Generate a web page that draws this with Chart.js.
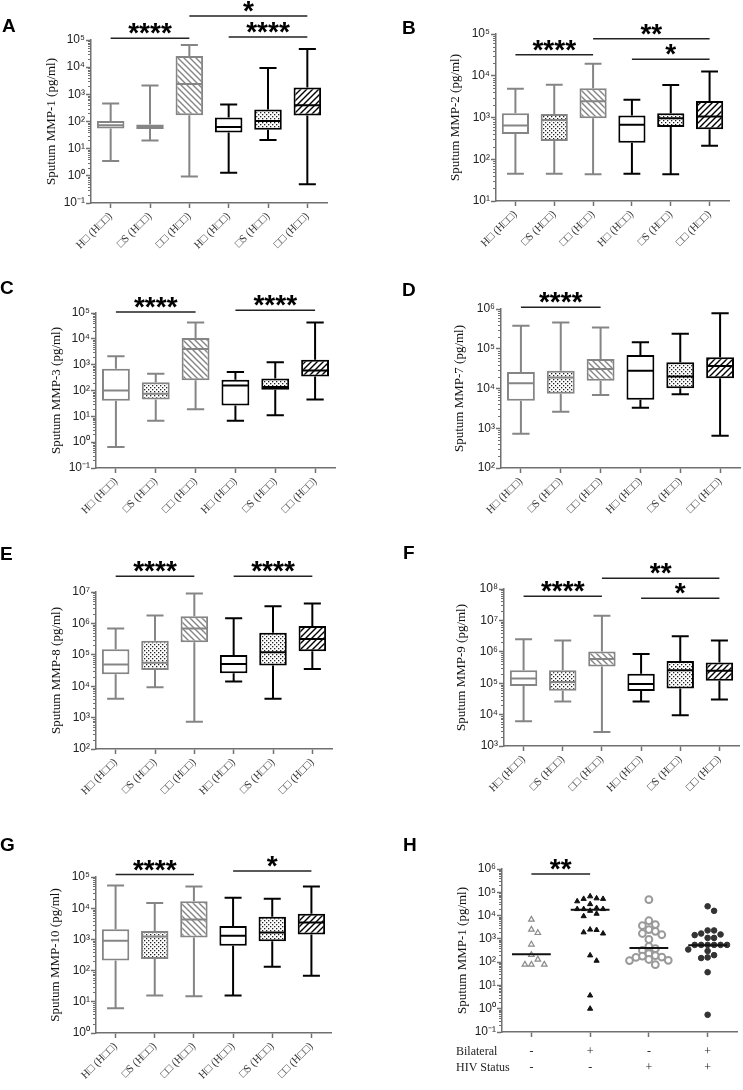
<!DOCTYPE html>
<html>
<head>
<meta charset="utf-8">
<script src="https://cdn.jsdelivr.net/npm/chart.js@4.4.1/dist/chart.umd.min.js"></script>
<style>
  body { margin: 0; background: #fff; }
  #fig { position: relative; width: 743px; height: 1090px; background: #fff; overflow: hidden; }
  #fig canvas { position: absolute; }
  .letter { position: absolute; font: bold 19px "Liberation Sans", Arial, sans-serif; line-height: 19px; color: #000; }
</style>
</head>
<body>
<div id="fig"></div>
<script>
// group labels (the source figure's labels render as missing glyphs)
const groupLabels = ['H□ (H□□)', '□S (H□□)', '□□ (H□□)', 'H□ (H□□)', '□S (H□□)', '□□ (H□□)'];

// A - Sputum MMP-1
const aMin = [3.5, 20, 0.95, 1.3, 21, 0.49];
const aQ1  = [55, 53, 170, 39, 50, 165];
const aMed = [73, 65, 2400, 63, 105, 400];
const aQ3  = [105, 77, 26000, 140, 275, 1800];
const aMax = [460, 2100, 66000, 425, 9300, 47000];
const aSig = [[0, 2, '****', 1.15e5], [2, 5, '*', 7.7e5], [3, 5, '****', 1.3e5]];

// B - Sputum MMP-2
const bMin = [45, 45, 44, 45, 44, 210];
const bQ1  = [400, 275, 960, 250, 590, 525];
const bMed = [640, 870, 2450, 670, 960, 1050];
const bQ3  = [1270, 1220, 5000, 1120, 1270, 2500];
const bMax = [4900, 6100, 19500, 2650, 6000, 12700];
const bSig = [[0, 2, '****', 3.2e4], [2, 5, '**', 7.7e4], [3, 5, '*', 2.5e4]];

// C - Sputum MMP-3
const cMin = [0.65, 6.8, 19, 6.8, 11, 45];
const cQ1  = [40, 45, 250, 26, 108, 350];
const cMed = [100, 75, 4000, 155, 137, 600];
const cQ3  = [700, 210, 10700, 260, 290, 1550];
const cMax = [2100, 450, 43000, 520, 1230, 43000];
const cSig = [[0, 2, '****', 1.1e5], [3, 5, '****', 1.27e5]];

// D - Sputum MMP-7
const dMin = [730, 2600, 6900, 3300, 7200, 650];
const dQ1  = [4900, 7400, 15600, 5200, 10200, 18000];
const dMed = [13600, 19000, 31000, 28000, 20000, 37000];
const dQ3  = [26000, 28000, 55000, 70000, 46000, 61000];
const dMax = [380000, 460000, 340000, 145000, 240000, 780000];
const dSig = [[0, 2, '****', 1.1e6]];

// E - Sputum MMP-8
const eMin = [4000, 9300, 740, 14000, 4000, 35000];
const eQ1  = [24000, 33000, 250000, 26000, 46000, 130000];
const eMed = [49000, 56000, 690000, 51000, 120000, 320000];
const eQ3  = [150000, 280000, 1700000, 98000, 500000, 830000];
const eMax = [690000, 1800000, 9000000, 1450000, 3500000, 4300000];
const eSig = [[0, 2, '****', 3.2e7], [3, 5, '****', 3.2e7]];

// F - Sputum MMP-9
const fMin = [6100, 26000, 2800, 26000, 9600, 30000];
const fQ1  = [81000, 58000, 340000, 56000, 68000, 120000];
const fMed = [140000, 110000, 590000, 94000, 260000, 250000];
const fQ3  = [260000, 260000, 1020000, 200000, 510000, 460000];
const fMax = [2500000, 2300000, 14000000, 850000, 3100000, 2300000];
const fSig = [[0, 2, '****', 5.9e7], [2, 5, '**', 2.2e8], [3, 5, '*', 5.1e7]];

// G - Sputum MMP-10
const gMin = [6.2, 16, 15, 16, 134, 69];
const gQ1  = [210, 235, 1150, 630, 870, 1440];
const gMed = [910, 1230, 4360, 1320, 1660, 3500];
const gQ3  = [2100, 1850, 16600, 2700, 5300, 6700];
const gMax = [53000, 14800, 50000, 21500, 20000, 50000];
const gSig = [[0, 2, '****', 1.2e5], [3, 5, '*', 1.55e5]];

// H - Sputum MMP-1 by bilateral disease / HIV status
const hBilateral = ['-', '+', '-', '+'];
const hHiv = ['-', '-', '+', '+'];
const hNoBilatHivNeg = [6700, 2500, 1800, 575, 205, 79, 79, 79, 130];
const hBilatHivNeg = [67000, 52000, 41000, 55000, 52000, 31000, 19000, 19000, 19000, 21000, 16000,
  9400, 12000, 2500, 1900, 1700, 2400, 195, 115, 3.7, 1.0];
const hNoBilatHivPos = [48000, 6000, 3700, 4100, 2100, 2500, 1500, 1700, 940, 380, 320, 480,
  165, 190, 230, 180, 160, 117, 130, 120, 78];
const hBilatHivPos = [25000, 16000, 2300, 1700, 1450, 1100, 1100, 1550, 2300, 550, 550, 550, 550,
  550, 550, 350, 300, 200, 150, 160, 37, 0.55];
const hMedians = [220, 18000, 400, 530];
const hSig = [[0, 1, '**', 6.1e5]];

const GRAY = '#858585';
const BLACK = '#000000';
const AXIS = '#707070';
const SERIF = '"Liberation Serif", "Times New Roman", serif';
const SANS = '"Liberation Sans", Arial, sans-serif';

const SUP = { '-': '⁻', '0': '⁰', '1': '¹', '2': '²', '3': '³', '4': '⁴', '5': '⁵', '6': '⁶', '7': '⁷', '8': '⁸', '9': '⁹' };

function isDecade(v) {
  const e = Math.log10(v);
  return Math.abs(e - Math.round(e)) < 1e-6;
}
function pow10Label(v) {
  const e = Math.round(Math.log10(v));
  return '10' + String(e).split('').map(c => SUP[c]).join('');
}
function logTicks(min, max) {
  const out = [];
  for (let e = Math.round(Math.log10(min)); e < Math.round(Math.log10(max)); e++) {
    for (let m = 1; m < 10; m++) out.push({ value: m * Math.pow(10, e) });
  }
  out.push({ value: max });
  return out;
}

// fill patterns
function hatch(color, dir) {
  const c = document.createElement('canvas');
  c.width = c.height = 6;
  const g = c.getContext('2d');
  g.fillStyle = '#fff';
  g.fillRect(0, 0, 6, 6);
  g.strokeStyle = color;
  g.lineWidth = 1.4;
  g.beginPath();
  if (dir === 'down') {
    g.moveTo(-1, -1); g.lineTo(7, 7);
    g.moveTo(-1, 5); g.lineTo(1, 7);
    g.moveTo(5, -1); g.lineTo(7, 1);
  } else {
    g.moveTo(-1, 7); g.lineTo(7, -1);
    g.moveTo(-1, 1); g.lineTo(1, -1);
    g.moveTo(5, 7); g.lineTo(7, 5);
  }
  g.stroke();
  return g.createPattern(c, 'repeat');
}
function dots() {
  const c = document.createElement('canvas');
  c.width = c.height = 4;
  const g = c.getContext('2d');
  g.fillStyle = '#fff';
  g.fillRect(0, 0, 4, 4);
  g.fillStyle = '#222';
  g.fillRect(0, 0, 1.3, 1.3);
  g.fillRect(2, 2, 1.3, 1.3);
  return g.createPattern(c, 'repeat');
}
const boxFills = ['#ffffff', dots(), hatch(GRAY, 'down'), '#ffffff', dots(), hatch(BLACK, 'up')];
const boxLines = [GRAY, GRAY, GRAY, BLACK, BLACK, BLACK];

// panel placement: cell = canvas box, plot = chart area, titleX = centre of the y title
const layout = {
  A: { cell: [0, 0, 371, 265], plot: [91, 40, 327, 203], titleX: 52, letter: [2, 18] },
  B: { cell: [371, 0, 372, 265], plot: [496, 34, 729, 201], titleX: 456, letter: [402, 20] },
  C: { cell: [0, 265, 371, 265], plot: [96, 313, 335, 468], titleX: 57, letter: [0, 280] },
  D: { cell: [371, 265, 372, 265], plot: [501, 309, 740, 468], titleX: 460, letter: [402, 282] },
  E: { cell: [0, 530, 371, 270], plot: [96, 592, 332, 749], titleX: 57, letter: [0, 546] },
  F: { cell: [371, 530, 372, 270], plot: [504, 589, 739, 746], titleX: 462, letter: [403, 545] },
  G: { cell: [0, 800, 371, 290], plot: [96, 877, 331, 1033], titleX: 56, letter: [0, 837] },
  H: { cell: [371, 800, 372, 290], plot: [502, 869, 742, 1032], titleX: 463, letter: [403, 837] }
};

const boxPanels = [
  { id: 'A', title: 'Sputum MMP-1 (pg/ml)', yMin: 0.1, yMax: 1e5, min: aMin, q1: aQ1, med: aMed, q3: aQ3, max: aMax, sig: aSig },
  { id: 'B', title: 'Sputum MMP-2 (pg/ml)', yMin: 10, yMax: 1e5, min: bMin, q1: bQ1, med: bMed, q3: bQ3, max: bMax, sig: bSig },
  { id: 'C', title: 'Sputum MMP-3 (pg/ml)', yMin: 0.1, yMax: 1e5, min: cMin, q1: cQ1, med: cMed, q3: cQ3, max: cMax, sig: cSig },
  { id: 'D', title: 'Sputum MMP-7 (pg/ml)', yMin: 100, yMax: 1e6, min: dMin, q1: dQ1, med: dMed, q3: dQ3, max: dMax, sig: dSig },
  { id: 'E', title: 'Sputum MMP-8 (pg/ml)', yMin: 100, yMax: 1e7, min: eMin, q1: eQ1, med: eMed, q3: eQ3, max: eMax, sig: eSig },
  { id: 'F', title: 'Sputum MMP-9 (pg/ml)', yMin: 1000, yMax: 1e8, min: fMin, q1: fQ1, med: fMed, q3: fQ3, max: fMax, sig: fSig },
  { id: 'G', title: 'Sputum MMP-10 (pg/ml)', yMin: 1, yMax: 1e5, min: gMin, q1: gQ1, med: gMed, q3: gQ3, max: gMax, sig: gSig }
];

const fig = document.getElementById('fig');
const TITLE_SIZE = 13;

function makeCanvas(id) {
  const L = layout[id];
  const cv = document.createElement('canvas');
  cv.width = L.cell[2];
  cv.height = L.cell[3];
  cv.style.left = L.cell[0] + 'px';
  cv.style.top = L.cell[1] + 'px';
  cv.style.width = L.cell[2] + 'px';
  cv.style.height = L.cell[3] + 'px';
  fig.appendChild(cv);

  const letter = document.createElement('div');
  letter.className = 'letter';
  letter.textContent = id;
  letter.style.left = L.letter[0] + 'px';
  letter.style.top = (L.letter[1] - 2.5) + 'px';
  fig.appendChild(letter);
  return cv;
}

function geometry(id) {
  const L = layout[id];
  const [cx, cy, cw, ch] = L.cell;
  const padLeft = L.titleX - cx - TITLE_SIZE * 1.2 / 2;
  return {
    padding: { left: padLeft, top: L.plot[1] - cy, right: cx + cw - L.plot[2], bottom: 0 },
    yWidth: L.plot[0] - cx - padLeft,
    xHeight: cy + ch - L.plot[3]
  };
}

// whiskers, caps and medians drawn on top of the floating bars
function boxPlugin(p) {
  return {
    id: 'boxWhiskers',
    afterDatasetsDraw(chart) {
      const ctx = chart.ctx;
      const ys = chart.scales.y;
      chart.getDatasetMeta(0).data.forEach((bar, i) => {
        const x = bar.x, w = bar.width, cap = w * 0.62;
        const yMin = ys.getPixelForValue(p.min[i]);
        const yQ1 = ys.getPixelForValue(p.q1[i]);
        const yMed = ys.getPixelForValue(p.med[i]);
        const yQ3 = ys.getPixelForValue(p.q3[i]);
        const yMax = ys.getPixelForValue(p.max[i]);
        ctx.save();
        ctx.strokeStyle = boxLines[i];
        ctx.lineWidth = 2;
        ctx.beginPath();
        ctx.moveTo(x, yQ3); ctx.lineTo(x, yMax);
        ctx.moveTo(x - cap / 2, yMax); ctx.lineTo(x + cap / 2, yMax);
        ctx.moveTo(x, yQ1); ctx.lineTo(x, yMin);
        ctx.moveTo(x - cap / 2, yMin); ctx.lineTo(x + cap / 2, yMin);
        ctx.moveTo(x - w / 2 + 1, yMed); ctx.lineTo(x + w / 2 - 1, yMed);
        ctx.stroke();
        ctx.restore();
      });
    }
  };
}

// significance bars + short minor ticks on the log axis
function extrasPlugin(sig, extra) {
  return {
    id: 'extras',
    afterDraw(chart) {
      const ctx = chart.ctx;
      const xs = chart.scales.x, ys = chart.scales.y;
      const left = chart.chartArea.left;
      ctx.save();
      ctx.strokeStyle = AXIS;
      ctx.lineWidth = 1;
      ys.ticks.forEach(t => {
        if (isDecade(t.value)) return;
        const y = Math.round(ys.getPixelForValue(t.value)) + 0.5;
        ctx.beginPath();
        ctx.moveTo(left - 3, y);
        ctx.lineTo(left, y);
        ctx.stroke();
      });
      sig.forEach(([from, to, label, level]) => {
        const x1 = xs.getPixelForValue(from), x2 = xs.getPixelForValue(to);
        const y = ys.getPixelForValue(level);
        ctx.strokeStyle = '#222';
        ctx.lineWidth = 1.5;
        ctx.beginPath();
        ctx.moveTo(x1, y);
        ctx.lineTo(x2, y);
        ctx.stroke();
        ctx.fillStyle = '#000';
        ctx.font = 'bold 28px ' + SANS;
        ctx.textAlign = 'center';
        ctx.textBaseline = 'alphabetic';
        ctx.fillText(label, (x1 + x2) / 2, y + 4);
      });
      if (extra) extra(chart, ctx);
      ctx.restore();
    }
  };
}

function yScale(p, g) {
  return {
    type: 'logarithmic',
    min: p.yMin,
    max: p.yMax,
    afterBuildTicks: s => { s.ticks = logTicks(p.yMin, p.yMax); },
    afterFit: s => { s.width = g.yWidth; },
    border: { color: AXIS, width: 1.5 },
    grid: {
      drawOnChartArea: false,
      tickLength: 5,
      tickWidth: 1.5,
      tickColor: c => (c.tick && isDecade(c.tick.value)) ? AXIS : 'rgba(0,0,0,0)'
    },
    ticks: {
      autoSkip: false,
      padding: 1,
      color: '#222',
      font: { family: SANS, size: 12 },
      callback: v => isDecade(v) ? pow10Label(v) : ''
    },
    title: {
      display: true,
      text: p.title,
      color: '#111',
      padding: 0,
      font: { family: SERIF, size: TITLE_SIZE }
    }
  };
}

boxPanels.forEach(p => {
  const cv = makeCanvas(p.id);
  const g = geometry(p.id);
  new Chart(cv, {
    type: 'bar',
    data: {
      labels: groupLabels,
      datasets: [{
        data: p.q1.map((v, i) => [v, p.q3[i]]),
        backgroundColor: boxFills,
        borderColor: boxLines,
        borderWidth: 2,
        borderSkipped: false,
        barPercentage: 0.7,
        categoryPercentage: 1
      }]
    },
    options: {
      responsive: false,
      animation: false,
      layout: { padding: g.padding },
      plugins: { legend: { display: false }, tooltip: { enabled: false } },
      scales: {
        x: {
          offset: true,
          afterFit: s => { s.height = g.xHeight; },
          border: { color: AXIS, width: 1.5 },
          grid: { offset: false, drawOnChartArea: false, tickLength: 5, tickWidth: 1.5, tickColor: AXIS },
          ticks: {
            autoSkip: false,
            minRotation: 45,
            maxRotation: 45,
            padding: 2,
            color: '#333',
            font: { family: SERIF, size: 11 }
          }
        },
        y: yScale(p, g)
      }
    },
    plugins: [boxPlugin(p), extrasPlugin(p.sig)]
  });
});

// panel H: beeswarm scatter
const SW_STEP = 0.11;   // horizontal spacing, in category units
const SW_TOL = 0.24;    // vertical clearance, in decades
function swarm(values, center) {
  const placed = [];
  values.slice().sort((a, b) => b - a).forEach(v => {
    const ly = Math.log10(v);
    for (let k = 0; k < 40; k++) {
      const off = k === 0 ? 0 : (k % 2 ? 1 : -1) * Math.ceil(k / 2) * SW_STEP;
      const hit = placed.some(q => ((q.off - off) / SW_STEP) ** 2 + ((q.ly - ly) / SW_TOL) ** 2 < 0.95);
      if (!hit) { placed.push({ off, ly, v }); break; }
    }
  });
  return placed.map(q => ({ x: center + q.off, y: q.v }));
}

(function () {
  const p = { title: 'Sputum MMP-1 (pg/ml)', yMin: 0.1, yMax: 1e6 };
  const cv = makeCanvas('H');
  const g = geometry('H');
  const groups = [hNoBilatHivNeg, hBilatHivNeg, hNoBilatHivPos, hBilatHivPos];
  const styles = [
    { pointStyle: 'triangle', backgroundColor: '#fff', borderColor: '#8a8a8a', borderWidth: 1.2, radius: 3.2 },
    { pointStyle: 'triangle', backgroundColor: '#111', borderColor: '#111', borderWidth: 1, radius: 3 },
    { pointStyle: 'circle', backgroundColor: '#fff', borderColor: '#9a9a9a', borderWidth: 2, radius: 3.4 },
    { pointStyle: 'circle', backgroundColor: '#333', borderColor: '#333', borderWidth: 1, radius: 2.8 }
  ];
  const rowHeads = (chart, ctx) => {
    const xs = chart.scales.x;
    const base = chart.chartArea.bottom + 5 + 6;
    const lh = 12 * 1.4;
    ctx.fillStyle = '#222';
    ctx.font = '12px ' + SERIF;
    ctx.textAlign = 'left';
    ctx.textBaseline = 'middle';
    ctx.fillText('Bilateral', 85, base + lh * 0.5);
    ctx.fillText('HIV Status', 85, base + lh * 1.5);
    // medians
    const ys = chart.scales.y;
    ctx.strokeStyle = '#111';
    ctx.lineWidth = 2;
    hMedians.forEach((m, i) => {
      const y = ys.getPixelForValue(m);
      ctx.beginPath();
      ctx.moveTo(xs.getPixelForValue(i - 0.33), y);
      ctx.lineTo(xs.getPixelForValue(i + 0.33), y);
      ctx.stroke();
    });
  };
  new Chart(cv, {
    type: 'scatter',
    data: {
      datasets: groups.map((vals, i) => Object.assign({ data: swarm(vals, i) }, styles[i]))
    },
    options: {
      responsive: false,
      animation: false,
      layout: { padding: g.padding },
      plugins: { legend: { display: false }, tooltip: { enabled: false } },
      scales: {
        x: {
          type: 'linear',
          min: -0.5,
          max: 3.5,
          afterBuildTicks: s => { s.ticks = [0, 1, 2, 3].map(v => ({ value: v })); },
          afterFit: s => { s.height = g.xHeight; },
          border: { color: AXIS, width: 1.5 },
          grid: { drawOnChartArea: false, tickLength: 5, tickWidth: 1.5, tickColor: AXIS },
          ticks: {
            autoSkip: false,
            maxRotation: 0,
            padding: 6,
            color: '#222',
            font: { family: SERIF, size: 12, lineHeight: 1.4 },
            callback: v => [hBilateral[v], hHiv[v]]
          }
        },
        y: yScale(p, g)
      }
    },
    plugins: [extrasPlugin(hSig, rowHeads)]
  });
})();
</script>
</body>
</html>
